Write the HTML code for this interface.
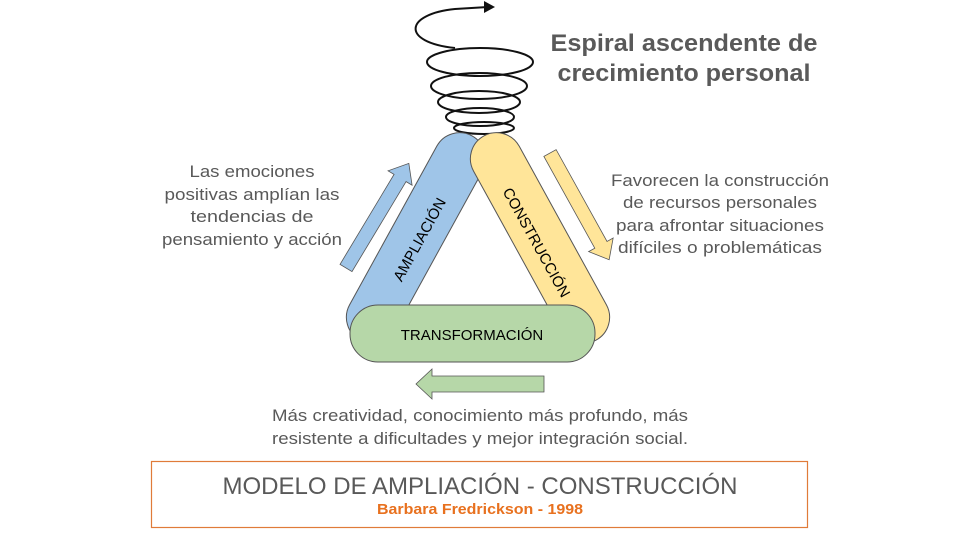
<!DOCTYPE html>
<html><head><meta charset="utf-8"><style>
body{margin:0;background:#fff}
svg{display:block}
text{font-family:"Liberation Sans",sans-serif}
</style></head><body>
<svg width="960" height="540" viewBox="0 0 960 540">
<!-- spiral -->
<g fill="none" stroke="#111" stroke-width="2">
<ellipse cx="484" cy="128" rx="30" ry="6"/>
<ellipse cx="480" cy="117" rx="34" ry="9"/>
<ellipse cx="479" cy="102" rx="41" ry="11"/>
<ellipse cx="479" cy="86" rx="48" ry="13"/>
<ellipse cx="480" cy="62" rx="53" ry="14"/>
<path d="M455 48 C400 42 405 14 455 9 L488 7"/>
</g>
<path d="M484 1 L495 7 L484 13 Z" fill="#111"/>
<!-- capsules -->
<rect x="390" y="121.5" width="52" height="233" rx="26" fill="#9fc5e8" stroke="#555" stroke-width="1" transform="rotate(28.8 416 238)"/>
<rect x="514" y="121.5" width="52" height="233" rx="26" fill="#ffe599" stroke="#555" stroke-width="1" transform="rotate(-28.8 540 238)"/>
<rect x="350" y="305" width="245" height="57" rx="28" fill="#b6d7a8" stroke="#555" stroke-width="1"/>
<text x="0" y="0" font-size="15" fill="#000" text-anchor="middle" transform="translate(424,242) rotate(-61)">AMPLIACIÓN</text>
<text x="0" y="0" font-size="15" fill="#000" text-anchor="middle" transform="translate(532,245) rotate(61)">CONSTRUCCIÓN</text>
<text x="472" y="340" font-size="15" fill="#000" text-anchor="middle">TRANSFORMACIÓN</text>
<!-- arrows -->
<polygon points="-7,0 -7,-105 -14,-105 0,-122 14,-105 7,-105 7,0" fill="#9fc5e8" stroke="#555" stroke-width="0.8" transform="translate(346,268) rotate(31)"/>
<polygon points="-7,0 -7,105 -14,105 0,122 14,105 7,105 7,0" fill="#ffe599" stroke="#555" stroke-width="0.8" transform="translate(550,153) rotate(-29)"/>
<polygon points="544,376 544,392 432,392 432,399 416,384 432,369 432,376" fill="#b6d7a8" stroke="#555" stroke-width="0.8"/>
<!-- texts -->
<g font-size="17" fill="#595959" text-anchor="middle">
<text x="252" y="177" textLength="125" lengthAdjust="spacingAndGlyphs">Las emociones</text>
<text x="252" y="200" textLength="175" lengthAdjust="spacingAndGlyphs">positivas amplían las</text>
<text x="252" y="222" textLength="123" lengthAdjust="spacingAndGlyphs">tendencias de</text>
<text x="252" y="245" textLength="180" lengthAdjust="spacingAndGlyphs">pensamiento y acción</text>
<text x="720" y="186" textLength="218" lengthAdjust="spacingAndGlyphs">Favorecen la construcción</text>
<text x="720" y="208" textLength="194" lengthAdjust="spacingAndGlyphs">de recursos personales</text>
<text x="720" y="231" textLength="208" lengthAdjust="spacingAndGlyphs">para afrontar situaciones</text>
<text x="720" y="253" textLength="204" lengthAdjust="spacingAndGlyphs">difíciles o problemáticas</text>
<text x="480" y="421" textLength="416" lengthAdjust="spacingAndGlyphs">Más creatividad, conocimiento más profundo, más</text>
<text x="480" y="444" textLength="416" lengthAdjust="spacingAndGlyphs">resistente a dificultades y mejor integración social.</text>
</g>
<g font-size="24" font-weight="bold" fill="#595959" text-anchor="middle">
<text x="684" y="51" textLength="267" lengthAdjust="spacingAndGlyphs">Espiral ascendente de</text>
<text x="684" y="81" textLength="253" lengthAdjust="spacingAndGlyphs">crecimiento personal</text>
</g>
<rect x="151.5" y="461.5" width="656" height="66" fill="none" stroke="#e07b39" stroke-width="1.2"/>
<text x="480" y="494" font-size="24" fill="#595959" text-anchor="middle" textLength="515" lengthAdjust="spacingAndGlyphs">MODELO DE AMPLIACIÓN - CONSTRUCCIÓN</text>
<text x="480" y="514" font-size="15" font-weight="bold" fill="#e8711f" text-anchor="middle" textLength="206" lengthAdjust="spacingAndGlyphs">Barbara Fredrickson - 1998</text>
</svg>
</body></html>
